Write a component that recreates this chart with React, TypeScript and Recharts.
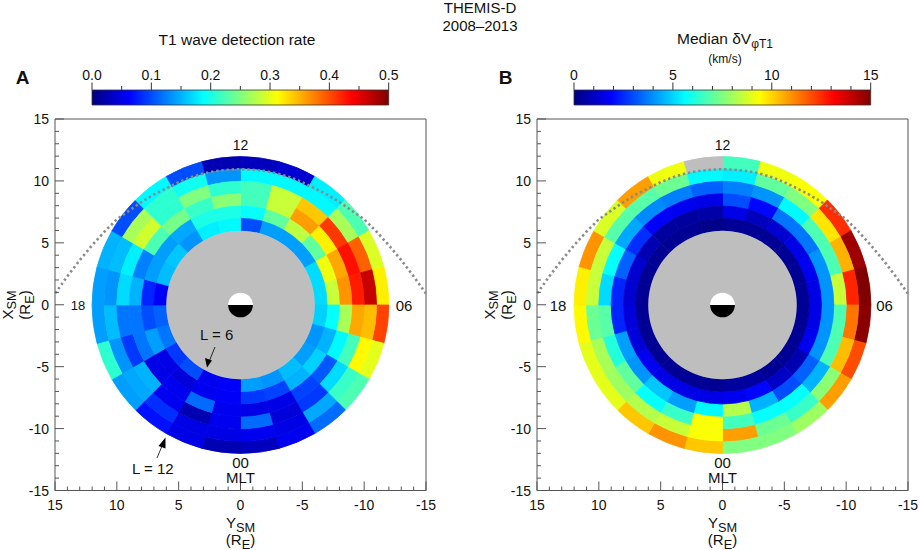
import React from 'react';
import { PieChart, Pie, Cell, ScatterChart, Scatter, BarChart, Bar, XAxis, YAxis } from 'recharts';

// cells run clockwise from 12 MLT, 24 bins of 1 h, rings are L = 11-12 down to L = 6-7
const rateRings = [
    [.03, .04, .18, .225, .295, .32, .405, .30, .225, .115, .055, .03, .025, .05, .07, .14, .21, .14, .14, .15, .10, .185, .10, .025],
    [.185, .185, .185, .27, .39, .465, .345, .315, .215, .145, .05, .055, .05, .05, .085, .145, .135, .155, .135, .155, .27, .21, .195, .135],
    [.22, .285, .34, .41, .43, .425, .355, .22, .17, .09, .045, .115, .055, .025, .055, .15, .09, .12, .17, .18, .29, .21, .25, .21],
    [.22, .285, .36, .32, .355, .365, .27, .185, .105, .095, .05, .05, .055, .115, .055, .05, .12, .12, .15, .125, .225, .245, .215, .255],
    [.19, .235, .28, .235, .305, .285, .19, .15, .165, .15, .095, .09, .06, .055, .045, .05, .14, .10, .08, .14, .14, .145, .20, .20],
    [.10, .14, .14, .14, .17, .17, .165, .135, .14, .155, .135, .14, .06, .055, .10, .09, .12, .11, .06, .155, .16, .135, .18, .185],
];
const velRings = [
    [6.6, 9.15, 9.3, 12.45, 14.55, 15, 14.85, 12, 10.8, 7.95, 7.5, 7.5, 10.2, 10.95, 10.2, 9, 9, 9.45, 9.6, 10.95, 8.85, 10.8, 9.15, null],
    [5.4, 7.05, 7.5, 9.75, 10.5, 12.6, 11.4, 10.35, 7.65, 6.45, 7.2, 10.8, 9.3, 8.55, 8.25, 7.95, 8.1, 7.2, 8.55, 8.55, 6.9, 6.9, 7.2, 5.55],
    [3.75, 4.05, 5.55, 6.75, 6.75, 8.55, 6.75, 6.75, 4.5, 5.7, 5.7, 6.6, 9.3, 6.45, 5.7, 7.05, 6.15, 6.9, 5.1, 5.7, 4.35, 3.9, 3.75, 3.3],
    [3, 1.95, 3.6, 3.6, 4.05, 4.05, 4.05, 4.05, 3.3, 3, 4.5, 8.25, 5.55, 4.2, 4.8, 4.05, 4.2, 2.4, 2.4, 3.3, 2.55, 1.8, 1.65, 1.5],
    [1.5, .9, 1.2, 1.5, 1.65, 1.5, 1.5, 1.65, .75, 1.05, 1.95, 1.65, 1.5, 1.5, 1.5, 1.65, 1.35, 1.35, 1.2, 1.2, .75, .45, .45, .6],
    [.3, .3, .3, .3, .3, .3, .3, .3, .3, .3, .45, .45, .3, .3, .3, .3, .3, .3, .3, .3, .3, .3, .3, .15],
];
const ringEdges = [12, 11, 10, 9, 8, 7, 6];

const boxTicks = [-15, -14, -13, -12, -11, -10, -9, -8, -7, -6, -5, -4, -3, -2, -1, 0, 1, 2, 3, 4, 5, 6, 7, 8, 9, 10, 11, 12, 13, 14, 15];
const rateTicks = [0, .05, .1, .15, .2, .25, .3, .35, .4, .45, .5];
const rateLabels = [0, .1, .2, .3, .4, .5];
const velTicks = [0, 1, 2, 3, 4, 5, 6, 7, 8, 9, 10, 11, 12, 13, 14, 15];
const velLabels = [0, 5, 10, 15];

// dotted magnetopause
const mpY = [-15, -14, -13, -12, -11, -10, -9, -8, -7, -6, -5, -4, -3, -2, -1, 0, 1, 2, 3, 4, 5, 6, 7, 8, 9, 10, 11, 12, 13, 14, 15];
const mpX = [.9, 2.3, 3.6, 4.8, 5.9, 6.9, 7.6, 8.3, 8.9, 9.4, 9.9, 10.3, 10.6, 10.8, 10.9, 10.95, 10.9, 10.8, 10.6, 10.3, 9.9, 9.4, 8.9, 8.3, 7.6, 6.9, 5.9, 4.8, 3.6, 2.3, .9];
const mpData = mpY.map((y, i) => ({ ysm: y, xsm: mpX[i] }));

const jetStops: [number, number[]][] = [
    [0, [0, 0, 128]],
    [.125, [0, 0, 255]],
    [.375, [0, 255, 255]],
    [.625, [255, 255, 0]],
    [.875, [255, 0, 0]],
    [1, [128, 0, 0]],
];

function jet(t: number) {
    for (let i = 1; i < jetStops.length; i++) {
        const [t1, c1] = jetStops[i];
        const [t0, c0] = jetStops[i - 1];
        if (t <= t1) {
            const f = (t - t0) / (t1 - t0);
            return `rgb(${c0.map((c, k) => Math.round(c + (c1[k] - c) * f)).join(',')})`;
        }
    }
    return 'rgb(128,0,0)';
}

const GREY = '#bebebe';
const AXIS = '#555555';
const PX_PER_RE = 12.37;
const TEXT = '#111111';

function BottomTick({ x, y, payload }: any) {
    const major = payload.value % 5 === 0;
    return (
        <g>
            <line x1={x} x2={x} y1={y} y2={y - (major ? 9 : 4)} stroke={AXIS} />
            {major && <text x={x} y={y + 19} textAnchor="middle" fontSize={14} fill={TEXT}>{payload.value}</text>}
        </g>
    );
}
function TopTick({ x, y, payload }: any) {
    const major = payload.value % 5 === 0;
    return <line x1={x} x2={x} y1={y} y2={y + (major ? 9 : 4)} stroke={AXIS} />;
}
function LeftTick({ x, y, payload }: any) {
    const major = payload.value % 5 === 0;
    return (
        <g>
            <line x1={x} x2={x + (major ? 9 : 4)} y1={y} y2={y} stroke={AXIS} />
            {major && <text x={x - 6} y={y + 5} textAnchor="end" fontSize={14} fill={TEXT}>{payload.value}</text>}
        </g>
    );
}
function RightTick({ x, y, payload }: any) {
    const major = payload.value % 5 === 0;
    return <line x1={x} x2={x - (major ? 9 : 4)} y1={y} y2={y} stroke={AXIS} />;
}

function Panel({ left, cx, rings, max }: { left: number; cx: number; rings: (number | null)[][]; max: number }) {
    const cy = 305;
    return (
        <>
            <PieChart width={460} height={550} margin={{ top: 0, right: 0, bottom: 0, left: 0 }} style={{ position: 'absolute', left, top: 0 }}>
                {rings.map((ring, r) => (
                    <Pie
                        key={r}
                        data={ring.map((v) => ({ bin: 1, v }))}
                        dataKey="bin"
                        cx={cx}
                        cy={cy}
                        innerRadius={ringEdges[r + 1] * PX_PER_RE}
                        outerRadius={ringEdges[r] * PX_PER_RE}
                        startAngle={90}
                        endAngle={-270}
                        isAnimationActive={false}
                    >
                        {ring.map((v, i) => {
                            const fill = v === null ? GREY : jet(v / max);
                            return <Cell key={i} fill={fill} stroke={fill} strokeWidth={0.8} />;
                        })}
                    </Pie>
                ))}
                <Pie data={[{ v: 1 }]} dataKey="v" cx={cx} cy={cy} innerRadius={0} outerRadius={6 * PX_PER_RE} stroke="none" fill={GREY} isAnimationActive={false} />
                <Pie data={[{ v: 1 }, { v: 1 }]} dataKey="v" cx={cx} cy={cy} innerRadius={0} outerRadius={PX_PER_RE} startAngle={180} endAngle={-180} stroke="none" isAnimationActive={false}>
                    <Cell fill="#ffffff" />
                    <Cell fill="#000000" />
                </Pie>
            </PieChart>
            <ScatterChart
                width={460}
                height={550}
                margin={{ top: 118, right: 460 - (cx + 185.5) - 1, bottom: 58.5, left: cx - 185.5 - 1 }}
                style={{ position: 'absolute', left, top: 0 }}
            >
                <XAxis xAxisId="bottom" type="number" dataKey="ysm" orientation="bottom" reversed domain={[-15, 15]} ticks={boxTicks} interval={0} height={1} tickSize={0} tickMargin={0} tick={BottomTick} tickLine={false} axisLine={{ stroke: AXIS }} />
                <XAxis xAxisId="top" type="number" orientation="top" reversed domain={[-15, 15]} ticks={boxTicks} interval={0} height={1} tickSize={0} tickMargin={0} tick={TopTick} tickLine={false} axisLine={{ stroke: AXIS }} />
                <YAxis yAxisId="left" type="number" dataKey="xsm" orientation="left" domain={[-15, 15]} ticks={boxTicks} interval={0} width={1} tickSize={0} tickMargin={0} tick={LeftTick} tickLine={false} axisLine={{ stroke: AXIS }} />
                <YAxis yAxisId="right" type="number" orientation="right" domain={[-15, 15]} ticks={boxTicks} interval={0} width={1} tickSize={0} tickMargin={0} tick={RightTick} tickLine={false} axisLine={{ stroke: AXIS }} />
                <Scatter
                    xAxisId="bottom"
                    yAxisId="left"
                    data={mpData}
                    line={{ stroke: '#8a8a8a', strokeWidth: 2.6, strokeDasharray: '2.4 2.8' }}
                    lineType="joint"
                    shape={() => null}
                    isAnimationActive={false}
                />
            </ScatterChart>
        </>
    );
}

function ColorBar({ left, x0, x1, max, ticks, labels, digits, id }: any) {
    const ColorTick = ({ x, y, payload }: any) => {
        const major = labels.includes(payload.value);
        return (
            <g>
                <line x1={x} x2={x} y1={y} y2={y - (major ? 7.5 : 4)} stroke="#333333" />
                {major && <text x={x} y={y - 10} textAnchor="middle" fontSize={14} fill={TEXT}>{payload.value.toFixed(digits)}</text>}
            </g>
        );
    };
    return (
        <BarChart
            width={460}
            height={120}
            layout="vertical"
            data={[{ name: 'bar', v: max }]}
            barCategoryGap={0}
            margin={{ top: 89, right: 460 - x1, bottom: 15, left: x0 }}
            style={{ position: 'absolute', left, top: 0 }}
        >
            <defs>
                <linearGradient id={id} x1="0" x2="1" y1="0" y2="0">
                    {jetStops.map(([t], i) => <stop key={i} offset={t} stopColor={jet(t)} />)}
                </linearGradient>
            </defs>
            <XAxis type="number" orientation="top" domain={[0, max]} ticks={ticks} interval={0} height={1} tickSize={0} tickMargin={0} tick={ColorTick} tickLine={false} axisLine={false} />
            <YAxis type="category" dataKey="name" width={0} hide />
            <Bar dataKey="v" fill={`url(#${id})`} stroke="#333333" strokeWidth={0.8} isAnimationActive={false} />
        </BarChart>
    );
}

function Sub({ base, sub, size = 15 }: { base: string; sub: string; size?: number }) {
    return (
        <>
            <tspan>{base}</tspan>
            <tspan fontSize={size * 0.85} dy={3.5}>{sub}</tspan>
        </>
    );
}

function Notes() {
    const centers = [240.5, 722.5];
    return (
        <svg width={920} height={550} style={{ position: 'absolute', left: 0, top: 0 }} fill={TEXT} fontSize={14}>
            <text x={480} y={13} textAnchor="middle" fontSize={15}>THEMIS-D</text>
            <text x={480} y={31} textAnchor="middle" fontSize={15}>2008–2013</text>
            <text x={237} y={45} textAnchor="middle" fontSize={15.5}>T1 wave detection rate</text>
            <text x={725} y={44} textAnchor="middle" fontSize={15.5}>
                <tspan>Median δV</tspan>
                <tspan fontSize={12} dy={3.5}>φT1</tspan>
            </text>
            <text x={725} y={63} textAnchor="middle" fontSize={12}>(km/s)</text>
            <text x={22.5} y={84} textAnchor="middle" fontSize={19} fontWeight="bold">A</text>
            <text x={505.5} y={84} textAnchor="middle" fontSize={19} fontWeight="bold">B</text>

            {centers.map((c, i) => (
                <g key={i}>
                    <text x={c} y={150} textAnchor="middle" fontSize={14}>12</text>
                    <text x={c} y={468} textAnchor="middle" fontSize={15}>00</text>
                    <text x={c} y={483} textAnchor="middle" fontSize={15}>MLT</text>
                    <text x={c} y={528} textAnchor="middle" fontSize={15}><Sub base="Y" sub="SM" /></text>
                    <text x={c} y={545} textAnchor="middle" fontSize={15}><Sub base="(R" sub="E" /><tspan dy={-3.5}>)</tspan></text>
                    <text transform={`translate(${c - 228},305) rotate(-90)`} textAnchor="middle" fontSize={15}><Sub base="X" sub="SM" /></text>
                    <text transform={`translate(${c - 210.5},305) rotate(-90)`} textAnchor="middle" fontSize={15}><Sub base="(R" sub="E" /><tspan dy={-3.5}>)</tspan></text>
                </g>
            ))}
            <text x={78} y={310} textAnchor="middle" fontSize={13}>18</text>
            <text x={558} y={311} textAnchor="middle" fontSize={15}>18</text>
            <text x={404} y={311} textAnchor="middle" fontSize={15}>06</text>
            <text x={884.5} y={311} textAnchor="middle" fontSize={15}>06</text>

            <text x={200} y={340} fontSize={15}>L = 6</text>
            <path d="M215 347 L209.5 360.5" stroke="#000" strokeWidth={0.8} />
            <path d="M207 367.5 L205 358 L212 360.5 Z" fill="#000" />
            <text x={132} y={474} fontSize={15}>L = 12</text>
            <path d="M157 458 L162 446" stroke="#000" strokeWidth={0.8} />
            <path d="M165.5 437.5 L158.5 446 L165.5 448.5 Z" fill="#000" />
        </svg>
    );
}

function App() {
    return (
        <div style={{ position: 'absolute', left: 0, top: 0, width: 920, height: 550, background: '#fff', fontFamily: '"Liberation Sans", Arial, sans-serif', overflow: 'hidden' }}>
            <ColorBar left={0} x0={92} x1={388.7} max={.5} ticks={rateTicks} labels={rateLabels} digits={1} id="jetA" />
            <ColorBar left={460} x0={114} x1={410.7} max={15} ticks={velTicks} labels={velLabels} digits={0} id="jetB" />
            <Panel left={0} cx={240.5} rings={rateRings} max={.5} />
            <Panel left={460} cx={262.5} rings={velRings} max={15} />
            <Notes />
        </div>
    );
}

export default App;
